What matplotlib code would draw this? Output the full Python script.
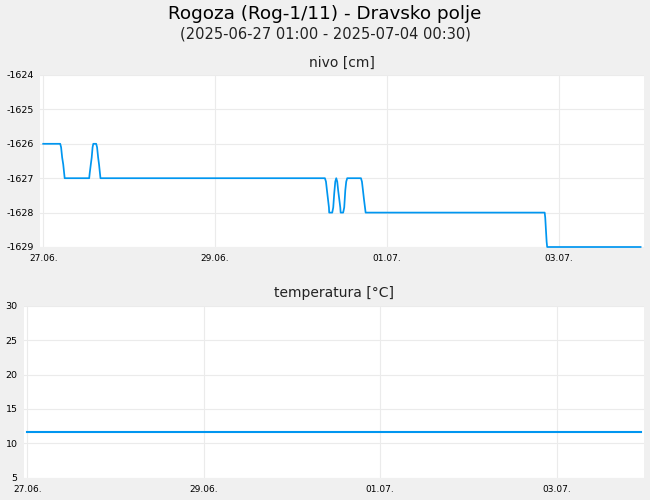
import matplotlib
matplotlib.use("Agg")
import matplotlib.pyplot as plt

plt.rcParams["axes.unicode_minus"] = False

# ure od 27.06. 00:00 (oznaka na osi)
nivo_ure = [0, 4.75, 5.0, 5.3, 5.6, 5.85, 6.0,
            12.85, 13.0, 13.3, 13.55, 13.8, 14.0, 14.8, 15.05, 15.35, 15.6, 15.85, 16.0,
            78.7, 79.0, 79.27, 79.55, 79.83, 79.9, 80.75, 81.03, 81.3, 81.6, 81.87,
            82.15, 82.4, 82.7, 83.0, 83.1, 83.8, 84.1, 84.4, 84.66, 84.94,
            88.77, 89.05, 89.33, 89.6, 89.9, 90.08,
            140.1, 140.26, 140.45, 140.65, 140.8, 166.9]
nivo = [-1626, -1626, -1626.1, -1626.4, -1626.6, -1626.85, -1627,
        -1627, -1626.85, -1626.6, -1626.4, -1626.1, -1626, -1626, -1626.1, -1626.4, -1626.6, -1626.85, -1627,
        -1627, -1627.1, -1627.35, -1627.6, -1627.85, -1628, -1628, -1627.85, -1627.45, -1627.1, -1627.0,
        -1627.1, -1627.35, -1627.6, -1627.85, -1628, -1628, -1627.85, -1627.35, -1627.1, -1627,
        -1627, -1627.1, -1627.35, -1627.6, -1627.85, -1628,
        -1628, -1628.15, -1628.5, -1628.85, -1629, -1629]

temp_ure = [0, 166.9]
temp = [11.6, 11.6]

dnevi_ure = [0, 48, 96, 144]
dnevi = ["27.06.", "29.06.", "01.07.", "03.07."]

nivo_ticks = [-1624, -1625, -1626, -1627, -1628, -1629]
temp_ticks = [5, 10, 15, 20, 25, 30]

barva = "#0096f0"
siva = "#ebebeb"

fig = plt.figure(figsize=(6.5, 5), dpi=100, facecolor="#f0f0f0")

fig.text(0.5, 0.972, "Rogoza (Rog-1/11) - Dravsko polje", ha="center", va="center", fontsize=13.2)
fig.text(0.5, 0.932, "(2025-06-27 01:00 - 2025-07-04 00:30)", ha="center", va="center", fontsize=10.5, color="#222222")


def nastavi_os(ax, yticks, naslov):
    ax.set_facecolor("white")
    for s in ax.spines.values():
        s.set_visible(False)
    ax.set_xlim(-0.9, 167.8)
    ax.set_ylim(min(yticks), max(yticks))
    ax.set_yticks(yticks)
    ax.set_xticks(dnevi_ure)
    ax.set_xticklabels(dnevi)
    ax.tick_params(axis="both", length=0)
    ax.tick_params(axis="x", labelsize=6.5, pad=5)
    ax.tick_params(axis="y", labelsize=6.8, pad=4.5)
    ax.grid(True, color=siva, linewidth=0.8)
    ax.set_axisbelow(True)
    ax.set_title(naslov, fontsize=10, pad=6, color="#222222")


ax1 = fig.add_axes([0.0615, 0.506, 0.929, 0.344])
nastavi_os(ax1, nivo_ticks, "nivo [cm]")
ax1.plot(nivo_ure, nivo, color=barva, linewidth=1.25, clip_on=False)

ax2 = fig.add_axes([0.0369, 0.0446, 0.954, 0.344])
nastavi_os(ax2, temp_ticks, "temperatura [°C]")
ax2.plot(temp_ure, temp, color=barva, linewidth=1.5)

fig.savefig("out.png", dpi=100, facecolor=fig.get_facecolor())
